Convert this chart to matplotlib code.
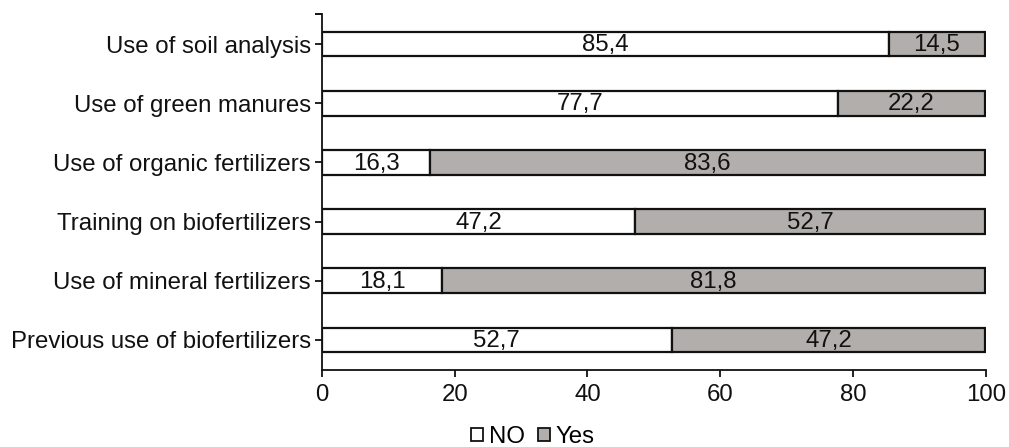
import matplotlib.pyplot as plt
from matplotlib.patches import Patch

plt.rcParams['font.family'] = ['Liberation Sans', 'DejaVu Sans']

# bottom to top
practices = ['Previous use of biofertilizers', 'Use of mineral fertilizers',
             'Training on biofertilizers', 'Use of organic fertilizers',
             'Use of green manures', 'Use of soil analysis']
no_pct = [52.7, 18.1, 47.2, 16.3, 77.7, 85.4]
yes_pct = [47.2, 81.8, 52.7, 83.6, 22.2, 14.5]

gray = '#b2aeac'
fs = 17.3

fig = plt.figure(figsize=(10.09, 4.47), dpi=100)
ax = fig.add_axes([0.319, 0.172, 0.658, 0.797])

ypos = list(range(len(practices)))
ax.barh(ypos, no_pct, height=0.42, color='white', edgecolor='#111111', linewidth=1.6)
ax.barh(ypos, yes_pct, left=no_pct, height=0.42, color=gray, edgecolor='#111111', linewidth=1.6)

def fmt(v):
    return f'{v:.1f}'.replace('.', ',')

for y, n, s in zip(ypos, no_pct, yes_pct):
    ax.text(n / 2, y - 0.02, fmt(n), ha='center', va='center', fontsize=fs, color='#111111')
    ax.text(n + s / 2, y - 0.02, fmt(s), ha='center', va='center', fontsize=fs, color='#111111')

ax.set_xlim(0, 100)
ax.set_ylim(-0.51, 5.51)
ax.set_xticks([0, 20, 40, 60, 80, 100])
ax.set_yticks(ypos)
ax.set_yticklabels(practices)
ax.set_yticks([5.51], minor=True)
ax.tick_params(axis='both', labelsize=fs, colors='#111111', width=1.3, length=5, direction='out')
ax.tick_params(axis='y', which='minor', width=1.3, length=5)
ax.tick_params(axis='x', pad=5)
ax.tick_params(axis='y', pad=3)

for side in ['top', 'right']:
    ax.spines[side].set_visible(False)
for side in ['left', 'bottom']:
    ax.spines[side].set_linewidth(1.3)
    ax.spines[side].set_color('#111111')

handles = [Patch(facecolor='white', edgecolor='#111111', linewidth=1.3, label='NO'),
           Patch(facecolor=gray, edgecolor='#111111', linewidth=1.3, label='Yes')]
fig.legend(handles=handles, loc='center', bbox_to_anchor=(0.528, 0.022), ncol=2,
           frameon=False, fontsize=fs, handlelength=0.5, handleheight=0.5,
           handletextpad=0.25, columnspacing=0.55, borderpad=0)

fig.savefig('out.png', dpi=100)
